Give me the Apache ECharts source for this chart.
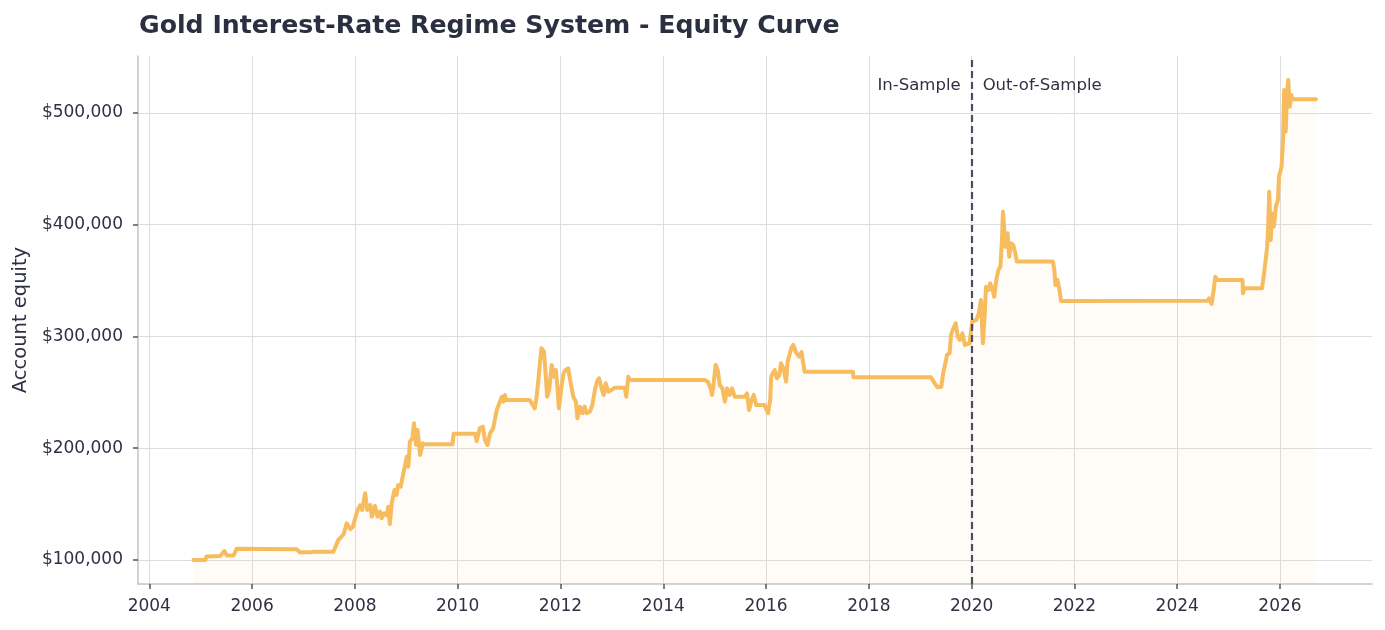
<!DOCTYPE html>
<html>
<head>
<meta charset="utf-8">
<script src="https://cdn.jsdelivr.net/npm/echarts@6/dist/echarts.min.js"></script>
<style>
  html, body { margin: 0; padding: 0; background: #fff; }
  #chart { width: 1385px; height: 630px; }
</style>
</head>
<body>
<div id="chart"></div>
<script>
// equity curve (decimal years / dollars)
var years = [
    2004.86, 2005.09, 2005.11, 2005.38, 2005.46, 2005.51, 2005.64, 2005.70, 2006.87, 2006.93,
    2007.16, 2007.18, 2007.20, 2007.58, 2007.68, 2007.78, 2007.84, 2007.91, 2007.96, 2008.04,
    2008.10, 2008.14, 2008.20, 2008.24, 2008.30, 2008.33, 2008.39, 2008.44, 2008.49, 2008.52,
    2008.57, 2008.62, 2008.65, 2008.68, 2008.72, 2008.77, 2008.81, 2008.84, 2008.89, 2008.93,
    2008.96, 2009.01, 2009.04, 2009.07, 2009.12, 2009.15, 2009.19, 2009.22, 2009.27, 2009.32,
    2009.36, 2009.90, 2009.92, 2010.34, 2010.37, 2010.43, 2010.49, 2010.53, 2010.58, 2010.63,
    2010.69, 2010.76, 2010.81, 2010.86, 2010.89, 2010.92, 2010.94, 2011.40, 2011.50, 2011.54,
    2011.57, 2011.60, 2011.63, 2011.68, 2011.72, 2011.74, 2011.78, 2011.83, 2011.87, 2011.91,
    2011.94, 2011.97, 2012.02, 2012.06, 2012.10, 2012.15, 2012.20, 2012.25, 2012.30, 2012.33,
    2012.38, 2012.43, 2012.47, 2012.51, 2012.57, 2012.62, 2012.67, 2012.71, 2012.75, 2012.80,
    2012.84, 2012.88, 2012.93, 2012.99, 2013.02, 2013.06, 2013.25, 2013.28, 2013.32, 2013.35,
    2014.81, 2014.87, 2014.92, 2014.95, 2014.98, 2015.02, 2015.06, 2015.10, 2015.15, 2015.20,
    2015.24, 2015.29, 2015.34, 2015.39, 2015.58, 2015.63, 2015.67, 2015.71, 2015.76, 2015.81,
    2015.97, 2016.04, 2016.08, 2016.10, 2016.13, 2016.17, 2016.21, 2016.26, 2016.29, 2016.34,
    2016.39, 2016.42, 2016.49, 2016.53, 2016.59, 2016.65, 2016.69, 2016.75, 2017.69, 2017.70,
    2019.21, 2019.28, 2019.34, 2019.41, 2019.45, 2019.49, 2019.52, 2019.57, 2019.60, 2019.63,
    2019.69, 2019.73, 2019.77, 2019.82, 2019.87, 2019.96, 2020.01, 2020.09, 2020.14, 2020.18,
    2020.22, 2020.25, 2020.28, 2020.33, 2020.36, 2020.41, 2020.44, 2020.48, 2020.52, 2020.56,
    2020.59, 2020.61, 2020.64, 2020.66, 2020.70, 2020.73, 2020.77, 2020.81, 2020.85, 2020.88,
    2021.58, 2021.61, 2021.63, 2021.67, 2021.71, 2021.74, 2024.59, 2024.62, 2024.67, 2024.71,
    2024.74, 2024.78, 2025.27, 2025.28, 2025.30, 2025.65, 2025.69, 2025.72, 2025.75, 2025.77,
    2025.79, 2025.82, 2025.84, 2025.88, 2025.92, 2025.96, 2025.98, 2026.01, 2026.03, 2026.06,
    2026.08, 2026.11, 2026.14, 2026.16, 2026.19, 2026.22, 2026.24, 2026.70
];
var equity = [
    100000, 100000, 103000, 103500, 108000, 104000, 104000, 110000, 109500, 107000,
    107000, 106500, 107400, 107400, 118000, 123000, 132800, 127700, 129800, 143000,
    149000, 144700, 159700, 144700, 149200, 138800, 148300, 138800, 143200, 137300,
    141800, 140000, 147700, 132200, 152000, 162600, 158200, 167000, 165600, 174500,
    181200, 192500, 183500, 205900, 208900, 222300, 203000, 216300, 194000, 204400,
    203500, 203500, 213000, 213000, 206500, 217800, 219300, 207400, 202900, 213400,
    217800, 234200, 240200, 246100, 241700, 247700, 243200, 243200, 235700, 247700,
    261000, 276000, 289400, 286400, 261000, 246100, 252100, 274500, 264000, 270000,
    255100, 235700, 255100, 267100, 270000, 271500, 258100, 246100, 241700, 226800,
    237200, 231300, 237200, 231300, 232700, 238700, 252100, 259600, 262600, 253600,
    247700, 258100, 250600, 252100, 250700, 254200, 254200, 246100, 264000, 261000,
    261000, 259500, 253600, 247700, 258100, 274500, 270000, 256600, 253600, 241700,
    253600, 247700, 253600, 246100, 246100, 249000, 234200, 241700, 247700, 238700,
    238700, 231300, 243200, 264000, 267000, 270000, 262600, 265500, 276000, 271500,
    259600, 277500, 289400, 292400, 285000, 282000, 286000, 268500, 268500, 263500,
    263500, 258100, 254500, 255000, 268500, 276000, 283500, 285000, 301300, 305800,
    311800, 299800, 296900, 302800, 292400, 293900, 313300, 314800, 320700, 332700,
    293900, 316300, 344500, 341600, 347600, 341600, 335600, 350600, 359500, 362500,
    386300, 411600, 392400, 380400, 392400, 371400, 383400, 381900, 374500, 367000,
    367000, 359500, 346100, 350600, 341600, 331800, 332000, 334200, 329100, 341600,
    353500, 350600, 350600, 338600, 343100, 343100, 356600, 368500, 380400, 398300,
    429600, 386300, 410200, 398300, 416200, 422200, 443000, 444500, 452000, 475900,
    520600, 483300, 519100, 529500, 505700, 516100, 512300, 512300
];
var yearTicks = [2004, 2006, 2008, 2010, 2012, 2014, 2016, 2018, 2020, 2022, 2024, 2026];
var equityTicks = [100000, 200000, 300000, 400000, 500000];
var splitYear = 2020.0;
var regimeLabels = ['In-Sample', 'Out-of-Sample'];

window.onload = function () {
    var textColor = '#2d3142';
    var font = 'DejaVu Sans';

    var points = years.map(function (y, i) {
        return [y, equity[i]];
    });

    var chart = echarts.init(document.getElementById('chart'));
    chart.setOption({
        animation: false,
        textStyle: { fontFamily: font },
        title: {
            text: 'Gold Interest-Rate Regime System - Equity Curve',
            left: 134,
            top: 9,
            textStyle: { fontFamily: font, fontSize: 25.2, fontWeight: 'bold', color: '#2b3040' }
        },
        grid: { left: 138, right: 13, top: 56, bottom: 46 },
        xAxis: {
            type: 'value',
            min: 2003.78,
            max: 2027.79,
            axisLine: { show: true, onZero: false, lineStyle: { color: '#c4c4c4', width: 1.5 } },
            axisTick: { show: true, customValues: yearTicks, length: 5, lineStyle: { color: '#555', width: 1.5 } },
            axisLabel: {
                customValues: yearTicks,
                color: textColor,
                fontSize: 17,
                margin: 14,
                formatter: function (v) { return String(Math.round(v)); }
            },
            splitLine: { show: true, lineStyle: { color: '#dddddd', width: 1 } }
        },
        yAxis: {
            type: 'value',
            min: 78500,
            max: 551000,
            name: 'Account equity',
            nameLocation: 'middle',
            nameGap: 104,
            nameTextStyle: { color: textColor, fontSize: 19.5, fontFamily: font },
            axisLine: { show: true, lineStyle: { color: '#c4c4c4', width: 1.5 } },
            axisTick: { show: true, customValues: equityTicks, length: 5, lineStyle: { color: '#555', width: 1.5 } },
            axisLabel: {
                customValues: equityTicks,
                color: textColor,
                fontSize: 17,
                margin: 15,
                padding: [3, 0, 0, 0],
                formatter: function (v) { return '$' + Math.round(v).toLocaleString('en-US'); }
            },
            splitLine: { show: true, lineStyle: { color: '#dddddd', width: 1 } }
        },
        series: [{
            type: 'line',
            data: points,
            showSymbol: false,
            lineStyle: { color: '#f6bc5e', width: 4, cap: 'round', join: 'round' },
            itemStyle: { color: '#f6bc5e' },
            areaStyle: { color: 'rgba(246,188,94,0.08)', origin: 'start' },
            markLine: {
                silent: true,
                symbol: 'none',
                label: { show: false },
                lineStyle: { color: '#4a4e5e', width: 2.2, type: [7, 4] },
                data: [{ xAxis: splitYear }]
            },
            markPoint: {
                silent: true,
                symbol: 'circle',
                symbolSize: 0,
                data: [{
                    coord: [splitYear, 524000],
                    label: { show: true, position: 'left', distance: 11, formatter: regimeLabels[0], color: textColor, fontSize: 16.5 }
                }, {
                    coord: [splitYear, 524000],
                    label: { show: true, position: 'right', distance: 11, formatter: regimeLabels[1], color: textColor, fontSize: 16.5 }
                }]
            }
        }]
    });
};
</script>
</body>
</html>
